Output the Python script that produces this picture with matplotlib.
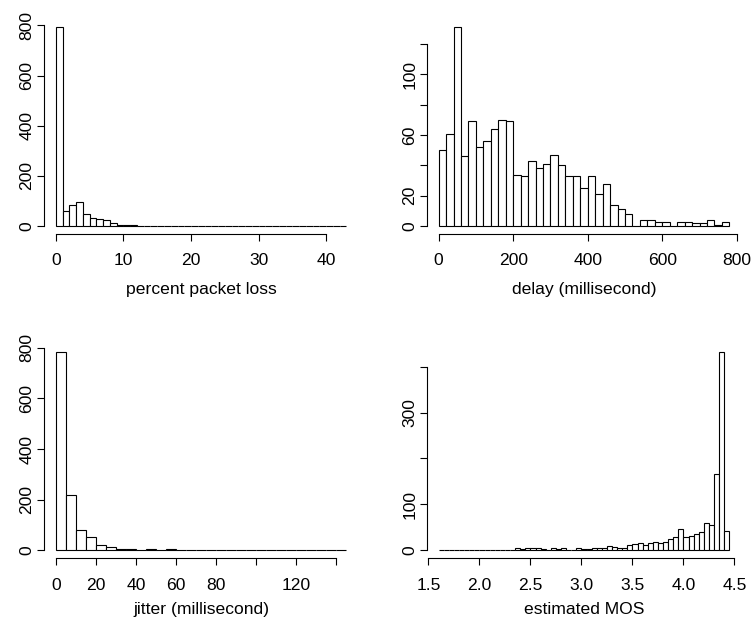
import matplotlib
matplotlib.use('Agg')
import matplotlib.pyplot as plt
import numpy as np

plt.rcParams['font.family'] = ['Liberation Sans', 'DejaVu Sans']
plt.rcParams['font.size'] = 12.6

# histogram counts per bin (R-style hist output)
loss_start, loss_width = 0, 1
loss_counts = [792, 59, 82, 95, 48, 33, 30, 24, 13, 6, 3, 3, 1] + [0] * 29 + [2]

delay_start, delay_width = 0, 20
delay_counts = [50, 61, 131, 46, 69, 52, 56, 64, 70, 69, 34, 33, 43, 38, 41, 47,
                40, 33, 33, 25, 33, 21, 28, 14, 11, 8, 0, 4, 4, 3, 3, 0, 3, 3,
                2, 2, 4, 1, 3]

jitter_start, jitter_width = 0, 5
jitter_counts = [782, 217, 80, 51, 22, 12, 5, 4, 1, 4, 1, 4, 1, 0, 1, 0, 0, 1,
                 0, 0, 1, 0, 0, 0, 1, 0, 0, 0, 1]

mos_start, mos_width = 1.6, 0.05
mos_counts = [1] * 15 + [5, 2, 4, 4, 4, 2, 1, 5, 3, 5, 1, 1, 4, 3, 3, 4, 4, 5,
              9, 7, 5, 6, 12, 13, 16, 12, 16, 19, 16, 18, 25, 29, 47, 30, 31,
              36, 40, 59, 55, 167, 431, 42]

# tick positions and which of them get a label
loss_xticks = [0, 10, 20, 30, 40]
loss_yticks = [0, 200, 400, 600, 800]
loss_ylabels = ['0', '200', '400', '600', '800']

delay_xticks = [0, 200, 400, 600, 800]
delay_yticks = [0, 20, 40, 60, 80, 100, 120]
delay_ylabels = ['0', '20', '', '60', '', '100', '']

jitter_xticks = [0, 20, 40, 60, 80, 100, 120, 140]
jitter_xlabels = ['0', '20', '40', '60', '80', '', '120', '']
jitter_yticks = [0, 200, 400, 600, 800]
jitter_ylabels = ['0', '200', '400', '600', '800']

mos_xticks = [1.5, 2.0, 2.5, 3.0, 3.5, 4.0, 4.5]
mos_xlabels = ['1.5', '2.0', '2.5', '3.0', '3.5', '4.0', '4.5']
mos_yticks = [0, 100, 200, 300, 400]
mos_ylabels = ['0', '100', '', '300', '']

W, H = 754, 619
fig = plt.figure(figsize=(W / 100, H / 100), dpi=100)


def panel(box, start, width, counts, xticks, xlabels, yticks, ylabels, xlabel,
          labelpad=9.5):
    x0, y0, x1, y1 = box
    ax = fig.add_axes([x0 / W, 1 - y1 / H, (x1 - x0) / W, (y1 - y0) / H])
    counts = np.asarray(counts, dtype=float)
    edges = start + width * np.arange(len(counts) + 1)
    ax.bar(edges[:-1], counts, width=width, align='edge', color='white',
           edgecolor='black', linewidth=0.8)
    lo, hi = edges[0], edges[-1]
    ax.set_xlim(lo - 0.04 * (hi - lo), hi + 0.04 * (hi - lo))
    m = counts.max()
    ax.set_ylim(-0.04 * m, 1.04 * m)
    for s in ('top', 'right'):
        ax.spines[s].set_visible(False)
    ax.spines['left'].set_bounds(yticks[0], yticks[-1])
    ax.spines['bottom'].set_bounds(xticks[0], xticks[-1])
    for s in ('left', 'bottom'):
        ax.spines[s].set_linewidth(0.8)
    ax.set_xticks(xticks)
    ax.set_xticklabels(xlabels)
    ax.set_yticks(yticks)
    ax.set_yticklabels(ylabels, rotation=90, va='center')
    ax.tick_params(length=5, width=0.8, pad=9)
    ax.tick_params(axis='y', pad=2)
    ax.set_xlabel(xlabel, labelpad=labelpad)
    return ax


left_col = (44.3, 358)
right_col = (427, 741)
top_row = (19.5, 234)
bot_row = (344.5, 558.2)

panel((left_col[0], top_row[0], left_col[1], top_row[1]), loss_start, loss_width,
      loss_counts, loss_xticks, [str(t) for t in loss_xticks], loss_yticks,
      loss_ylabels, 'percent packet loss')
panel((right_col[0], top_row[0], right_col[1], top_row[1]), delay_start, delay_width,
      delay_counts, delay_xticks, [str(t) for t in delay_xticks], delay_yticks,
      delay_ylabels, 'delay (millisecond)')
# bottom row labels sit a little higher so they stay inside the figure
panel((left_col[0], bot_row[0], left_col[1], bot_row[1]), jitter_start, jitter_width,
      jitter_counts, jitter_xticks, jitter_xlabels, jitter_yticks,
      jitter_ylabels, 'jitter (millisecond)', labelpad=7)
panel((right_col[0], bot_row[0], right_col[1], bot_row[1]), mos_start, mos_width,
      mos_counts, mos_xticks, mos_xlabels, mos_yticks, mos_ylabels,
      'estimated MOS', labelpad=7)

fig.savefig('out.png', dpi=100)
